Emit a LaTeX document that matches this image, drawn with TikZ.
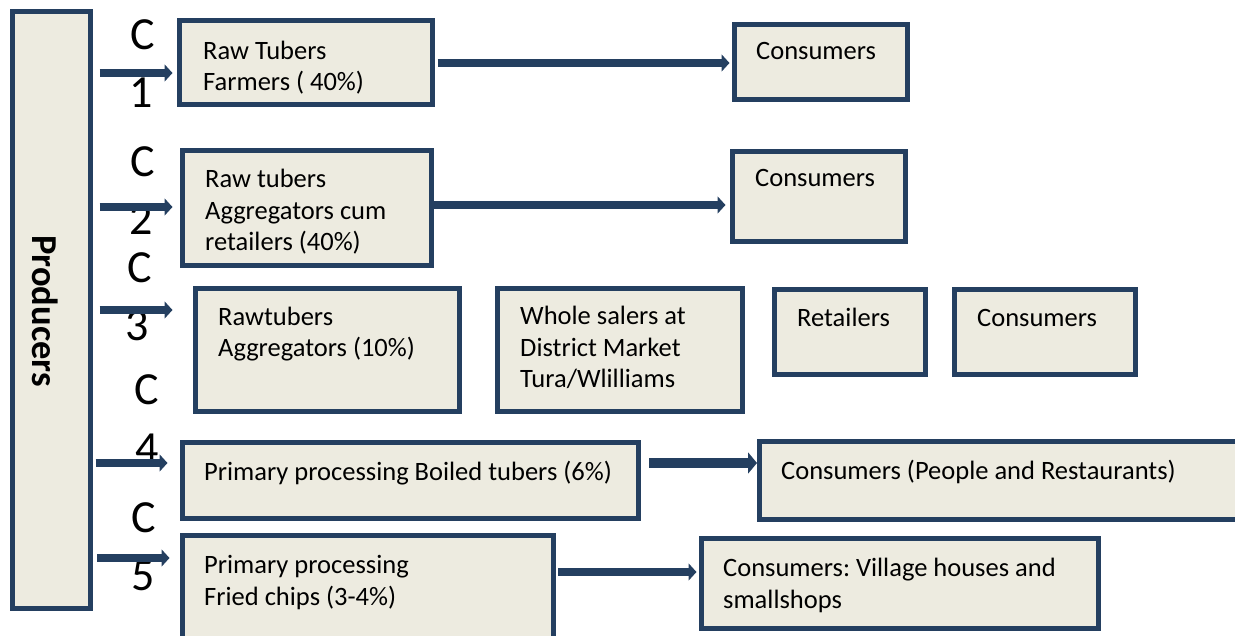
\documentclass[tikz,border=0pt]{standalone}
\usepackage{fontspec}
\setmainfont{Carlito}
\frenchspacing
\usetikzlibrary{arrows.meta,fit}
\definecolor{navy}{HTML}{243F60}
\definecolor{paper}{HTML}{EDEBE0}
\tikzset{
  box/.style={draw=navy, fill=paper, line width=5pt, inner sep=0pt, rectangle},
  % multi-line texts are placed by the baseline of their last line
  txt/.style={font=\fontsize{26.5}{31.8}\selectfont, align=left, inner sep=0pt, anchor=base west},
  clabel/.style={font=\fontsize{46}{55}\selectfont, inner sep=0pt, anchor=base},
  arr/.style={draw=navy, line width=8pt, -{Triangle[length=8pt,width=17pt]}},
  bigarr/.style={draw=navy, line width=10pt, -{Triangle[length=9pt,width=21pt]}},
}
\begin{document}
\begin{tikzpicture}[x=1pt,y=-1pt]
\useasboundingbox (0,0) rectangle (1235,636);

% producers column
\node[box, fit={(12.5,11.5) (90.5,608.5)}] (prod) {};
\node[rotate=-90, font=\bfseries\fontsize{36.5}{42}\selectfont, inner sep=0pt] (prodt) at (45,311) {Producers};

% channel 1
\node[box, fit={(179.5,20.5) (432.5,104.5)}] (b1) {};
\node[box, fit={(734.5,24.5) (907.5,99.5)}] (c1) {};
% channel 2
\node[box, fit={(182.5,150.5) (431.5,265.5)}] (b2) {};
\node[box, fit={(732.5,151.5) (905.5,241.5)}] (c2) {};
% channel 3
\node[box, fit={(195.5,288.5) (459.5,411.5)}] (b3) {};
\node[box, fit={(497.5,288.5) (742.5,411.5)}] (w3) {};
\node[box, fit={(774.5,289.5) (925.5,374.5)}] (r3) {};
\node[box, fit={(954.5,289.5) (1135.5,374.5)}] (k3) {};
% channel 4
\node[box, fit={(182.5,442.5) (638.5,518.5)}] (b4) {};
\node[box, fit={(759.5,441.5) (1250,519.5)}] (k4) {};
% channel 5
\node[box, fit={(182.5,535.5) (553.5,650)}] (b5) {};
\node[box, fit={(701.5,538.5) (1098.5,628.5)}] (k5) {};

% box texts
\node[txt] (b1t) at (203,91) {Raw Tubers\\Farmers ( 40\%)};
\node[txt] (c1t) at (756,60) {Consumers};
\node[txt] (b2t) at (205,251) {Raw tubers\\Aggregators cum\\retailers (40\%)};
\node[txt] (c2t) at (755,187) {Consumers};
\node[txt] (b3t) at (218,357) {Rawtubers\\Aggregators (10\%)};
\node[txt] (w3t) at (520,388) {Whole salers at\\District Market\\Tura/Wlilliams};
\node[txt] (r3t) at (797,327) {Retailers};
\node[txt] (k3t) at (977,327) {Consumers};
\node[txt] (b4t) at (204,480) {Primary processing Boiled tubers (6\%)};
\node[txt] (k4t) at (781,479) {Consumers (People and Restaurants)};
\node[txt] (b5t) at (204,605) {Primary processing\\Fried chips (3-4\%)};
\node[txt] (k5t) at (723,608) {Consumers: Village houses and\\smallshops};

% channel labels
\node[clabel] (l1c) at (142.5,50) {C};
\node[clabel] (l1n) at (141.5,108) {1};
\node[clabel] (l2c) at (142.5,177) {C};
\node[clabel] (l2n) at (141.5,235) {2};
\node[clabel] (l3c) at (140,283) {C};
\node[clabel] (l3n) at (137,341) {3};
\node[clabel] (l4c) at (147,405) {C};
\node[clabel] (l4n) at (147,463) {4};
\node[clabel] (l5c) at (144,532) {C};
\node[clabel] (l5n) at (143,590) {5};

% arrow levels
\coordinate (y1) at (0,73);
\coordinate (y2) at (0,207);
\coordinate (y3) at (0,310);
\coordinate (y4) at (0,463);
\coordinate (y5) at (0,558);
\coordinate (z1) at (0,63);
\coordinate (z2) at (0,205);
\coordinate (z5) at (0,572);

% producers to first stage
\draw[arr, shorten <=6.5pt, shorten >=4.5pt] (prod.east |- y1) -- (b1.west |- y1);
\draw[arr, shorten <=6.5pt, shorten >=7.5pt] (prod.east |- y2) -- (b2.west |- y2);
\draw[arr, shorten <=6.5pt, shorten >=20.5pt] (prod.east |- y3) -- (b3.west |- y3);
\draw[arr, shorten <=2.5pt, shorten >=12.5pt] (prod.east |- y4) -- (b4.west |- y4);
\draw[arr, shorten <=4pt, shorten >=10.5pt] (prod.east |- y5) -- (b5.west |- y5);

% onward links
\draw[arr, shorten <=2.5pt, shorten >=2.5pt] (b1.east |- z1) -- (c1.west |- z1);
\draw[arr, shorten >=4.5pt] (b2.east |- z2) -- (c2.west |- z2);
\draw[bigarr, shorten <=8pt] (b4.east |- y4) -- (k4.west |- y4);
\draw[arr, shorten <=2pt, shorten >=2.5pt] (b5.east |- z5) -- (k5.west |- z5);
\end{tikzpicture}
\end{document}
